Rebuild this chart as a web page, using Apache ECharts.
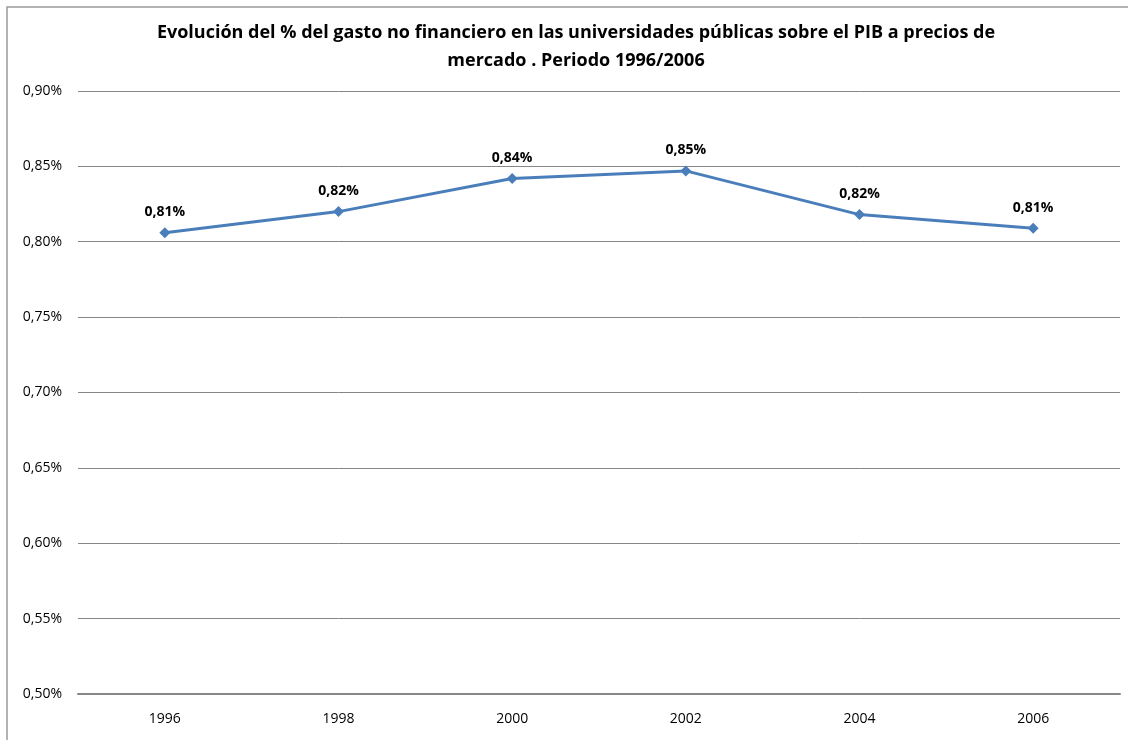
<!DOCTYPE html>
<html>
<head>
<meta charset="utf-8">
<script src="https://cdn.jsdelivr.net/npm/echarts@6.0.0/dist/echarts.min.js"></script>
<style>
  html, body { margin: 0; padding: 0; background: #fff; }
  #chart { width: 1128px; height: 740px; }
</style>
</head>
<body>
<div id="chart"></div>
<script>
// --- DATA ---
const years = ['1996', '1998', '2000', '2002', '2004', '2006'];
const gastoPib = [0.806, 0.820, 0.842, 0.847, 0.818, 0.809];
const titleText = 'Evolución del % del gasto no financiero en las universidades públicas sobre el PIB a precios de\nmercado . Periodo 1996/2006';

const pct = v => v.toFixed(2).replace('.', ',') + '%';
const FONT = '"Open Sans", sans-serif';

const chart = echarts.init(document.getElementById('chart'));
chart.setOption({
    animation: false,
    backgroundColor: '#fff',
    title: {
        text: titleText,
        left: 571,
        textAlign: 'center',
        top: 14,
        textStyle: { fontFamily: FONT, fontWeight: 'bold', fontSize: 18, lineHeight: 28, color: '#000' }
    },
    graphic: [{
        type: 'rect',
        shape: { x: 7, y: 7, width: 1130, height: 750 },
        style: { fill: 'none', stroke: '#9a9a9a', lineWidth: 1.5 },
        silent: true
    }],
    grid: { left: 78, right: 8, top: 91, bottom: 46 },
    xAxis: {
        type: 'category',
        data: years,
        boundaryGap: true,
        axisLine: { lineStyle: { color: '#868686', width: 2 } },
        axisTick: { show: false },
        axisLabel: { color: '#000', fontFamily: FONT, fontSize: 14, margin: 18 }
    },
    yAxis: {
        type: 'value',
        min: 0.5,
        max: 0.9,
        interval: 0.05,
        axisLine: { show: false },
        axisTick: { show: false },
        splitLine: { lineStyle: { color: '#868686', width: 1 } },
        axisLabel: { color: '#000', fontFamily: FONT, fontSize: 14, margin: 16, formatter: pct }
    },
    series: [{
        type: 'line',
        data: gastoPib,
        symbol: 'diamond',
        symbolSize: 11,
        lineStyle: { color: '#4a7ebb', width: 3 },
        itemStyle: { color: '#4a7ebb' },
        label: {
            show: true,
            position: 'top',
            distance: 8,
            formatter: p => pct(p.value),
            color: '#000',
            fontFamily: FONT,
            fontWeight: 'bold',
            fontSize: 14
        }
    }]
});
</script>
</body>
</html>
